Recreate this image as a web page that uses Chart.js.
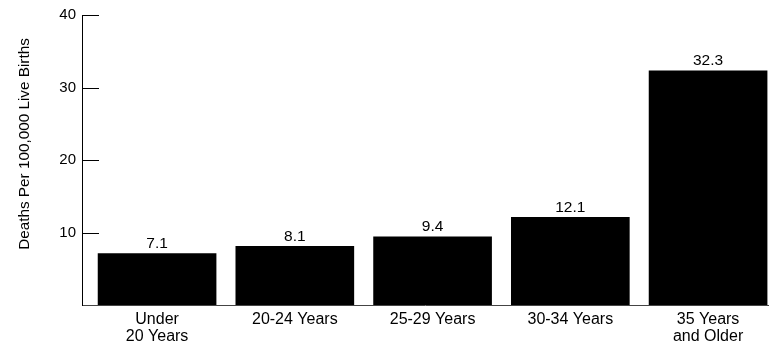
<!DOCTYPE html>
<html>
<head>
<meta charset="utf-8">
<script src="https://cdn.jsdelivr.net/npm/chart.js@4/dist/chart.umd.min.js"></script>
<style>
html,body{margin:0;padding:0;background:#fff;}
canvas{display:block;}
</style>
</head>
<body>
<canvas id="c" width="772" height="348"></canvas>
<script>
const categories = [["Under", "20 Years"], "20-24 Years", "25-29 Years", "30-34 Years", ["35 Years", "and Older"]];
const deathRates = [7.1, 8.1, 9.4, 12.1, 32.3];
const yTickValues = [10, 20, 30, 40];
const yTitle = "Deaths Per 100,000 Live Births";

const FONT = "'Liberation Sans', Arial, Helvetica, sans-serif";

const innerTicks = {
  id: 'innerTicks',
  afterDatasetsDraw(chart) {
    const ctx = chart.ctx, y = chart.scales.y, area = chart.chartArea;
    ctx.save();
    ctx.strokeStyle = '#000';
    ctx.lineWidth = 1;
    yTickValues.forEach(v => {
      const py = Math.round(y.getPixelForValue(v)) + 0.5;
      ctx.beginPath();
      ctx.moveTo(area.left, py);
      ctx.lineTo(area.left + 17, py);
      ctx.stroke();
    });
    ctx.fillStyle = '#000';
    ctx.font = '15.5px ' + FONT;
    ctx.textAlign = 'center';
    ctx.textBaseline = 'alphabetic';
    const meta = chart.getDatasetMeta(0);
    meta.data.forEach((bar, i) => {
      ctx.fillText(deathRates[i].toFixed(1), bar.x, bar.y - 5.5);
    });
    ctx.font = '15.3px ' + FONT;
    ctx.translate(25, 144);
    ctx.rotate(-Math.PI / 2);
    ctx.textBaseline = 'middle';
    ctx.fillText(yTitle, 0, 0);
    ctx.restore();
  }
};

new Chart(document.getElementById('c'), {
  type: 'bar',
  data: {
    datasets: [{
      data: deathRates.map((v, i) => ({ x: i, y: v })),
      backgroundColor: '#000',
      borderWidth: 0,
      barThickness: 118,
      maxBarThickness: 118
    }]
  },
  options: {
    responsive: false,
    devicePixelRatio: 1,
    animation: false,
    layout: { padding: { top: 14, right: 4, left: 0, bottom: 0 } },
    plugins: { legend: { display: false }, tooltip: { enabled: false } },
    scales: {
      x: {
        type: 'linear',
        offset: false,
        min: -0.545,
        max: 4.435,
        afterFit(s) { s.height = 43; },
        afterBuildTicks(s) { s.ticks = categories.map((c, i) => ({ value: i })); },
        grid: { display: false, drawTicks: false, offset: false },
        border: { display: true, color: '#444', width: 1 },
        ticks: {
          autoSkip: false,
          maxRotation: 0,
          padding: 6,
          color: '#000',
          font: { family: FONT, size: 16, lineHeight: 1.08 },
          callback: (v) => categories[v]
        }
      },
      y: {
        min: 0,
        max: 40,
        afterFit(s) { s.width = 82; },
        afterBuildTicks(s) { s.ticks = [0].concat(yTickValues).map(v => ({ value: v })); },
        grid: { display: false, drawTicks: false },
        border: { display: true, color: '#000', width: 1 },
        ticks: {
          padding: 6,
          color: '#000',
          font: { family: FONT, size: 15 },
          callback: (v) => v === 0 ? '' : String(v)
        }
      }
    }
  },
  plugins: [innerTicks]
});
</script>
</body>
</html>
